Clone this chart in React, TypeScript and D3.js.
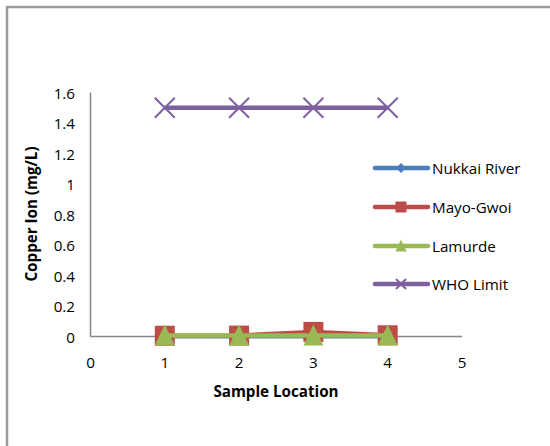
import React from "react";
import * as d3 from "d3";

const sampleLocations = [1, 2, 3, 4];
const nukkaiRiver = [0.002, 0.001, 0.002, 0.001];
const mayoGwoi = [0.005, 0.006, 0.03, 0.008];
const lamurde = [0.006, 0.007, 0.007, 0.006];
const whoLimit = [1.5, 1.5, 1.5, 1.5];
const yTicks = [0, 0.2, 0.4, 0.6, 0.8, 1, 1.2, 1.4, 1.6];
const xTicks = [0, 1, 2, 3, 4, 5];

const FONT = "'Open Sans', sans-serif";
const FS = 15.2;

type Series = { name: string; values: number[]; color: string; marker: string };

const series: Series[] = [
  { name: "Nukkai River", values: nukkaiRiver, color: "#4A7EBB", marker: "diamond" },
  { name: "Mayo-Gwoi", values: mayoGwoi, color: "#BE4B48", marker: "square" },
  { name: "Lamurde", values: lamurde, color: "#98B954", marker: "triangle" },
  { name: "WHO Limit", values: whoLimit, color: "#7D60A0", marker: "x" },
];

function Marker({ kind, x, y, color, size }: { kind: string; x: number; y: number; color: string; size: number }) {
  const h = size / 2;
  if (kind === "diamond") {
    return <path d={`M${x},${y - h} L${x + h},${y} L${x},${y + h} L${x - h},${y} Z`} fill={color} />;
  }
  if (kind === "square") {
    return <rect x={x - h} y={y - h} width={size} height={size} fill={color} />;
  }
  if (kind === "triangle") {
    return <path d={`M${x},${y - h - 1} L${x + h},${y + h} L${x - h},${y + h} Z`} fill={color} />;
  }
  return (
    <path
      d={`M${x - h},${y - h} L${x + h},${y + h} M${x - h},${y + h} L${x + h},${y - h}`}
      stroke={color}
      strokeWidth={2}
      fill="none"
    />
  );
}

export default function App() {
  const width = 550;
  const height = 446;
  const x = d3.scaleLinear().domain([0, 5]).range([90.5, 462]);
  const y = d3.scaleLinear().domain([0, 1.6]).range([336.5, 92.5]);
  const line = d3
    .line<[number, number]>()
    .x((d) => x(d[0]))
    .y((d) => y(d[1]));

  const legendY = [168, 207, 246, 284];

  return (
    <svg
      width={width}
      height={height}
      style={{ position: "absolute", left: 0, top: 0, background: "#fff" }}
    >
      <rect x={0} y={0} width={width} height={height} fill="#fff" />
      {/* chart area frame */}
      <rect x={7} y={7} width={600} height={500} fill="none" stroke="#9a9a9a" strokeWidth={2.5} />

      {/* axes */}
      <line x1={x(0)} x2={x(0)} y1={y(1.6)} y2={y(0)} stroke="#868686" strokeWidth={1.5} />
      <line x1={x(0)} x2={x(5)} y1={y(0)} y2={y(0)} stroke="#868686" strokeWidth={1.5} />

      {yTicks.map((t) => (
        <text
          key={"y" + t}
          x={75}
          y={y(t)}
          textAnchor="end"
          dominantBaseline="central"
          fontFamily={FONT}
          fontSize={FS}
          fill="#000"
        >
          {t}
        </text>
      ))}
      {xTicks.map((t) => (
        <text
          key={"x" + t}
          x={x(t)}
          y={362}
          textAnchor="middle"
          dominantBaseline="central"
          fontFamily={FONT}
          fontSize={FS}
          fill="#000"
        >
          {t}
        </text>
      ))}

      <text
        transform={`translate(31,214) rotate(-90)`}
        textAnchor="middle"
        dominantBaseline="central"
        fontFamily={FONT}
        fontSize={FS}
        fontWeight="bold"
      >
        Copper Ion (mg/L)
      </text>
      <text
        x={276}
        y={391}
        textAnchor="middle"
        dominantBaseline="central"
        fontFamily={FONT}
        fontSize={FS}
        fontWeight="bold"
      >
        Sample Location
      </text>

      {/* series */}
      {series.map((s) => {
        const pts = sampleLocations.map((c, i) => [c, s.values[i]] as [number, number]);
        return (
          <g key={s.name}>
            <path d={line(pts) || ""} fill="none" stroke={s.color} strokeWidth={4.5} strokeLinejoin="round" />
            {pts.map((p, i) => (
              <Marker
                key={i}
                kind={s.marker}
                x={x(p[0])}
                y={y(p[1])}
                color={s.color}
                size={s.marker === "x" ? 20 : s.marker === "diamond" ? 12 : 20}
              />
            ))}
          </g>
        );
      })}

      {/* legend */}
      {series.map((s, i) => (
        <g key={"lg" + s.name}>
          <line x1={375} x2={428} y1={legendY[i]} y2={legendY[i]} stroke={s.color} strokeWidth={4.5} strokeLinecap="round" />
          <Marker
            kind={s.marker}
            x={401}
            y={legendY[i]}
            color={s.color}
            size={s.marker === "x" ? 10 : s.marker === "diamond" ? 10 : 11}
          />
          <text
            x={432}
            y={legendY[i]}
            dominantBaseline="central"
            fontFamily={FONT}
            fontSize={FS}
            fill="#000"
          >
            {s.name}
          </text>
        </g>
      ))}
    </svg>
  );
}
